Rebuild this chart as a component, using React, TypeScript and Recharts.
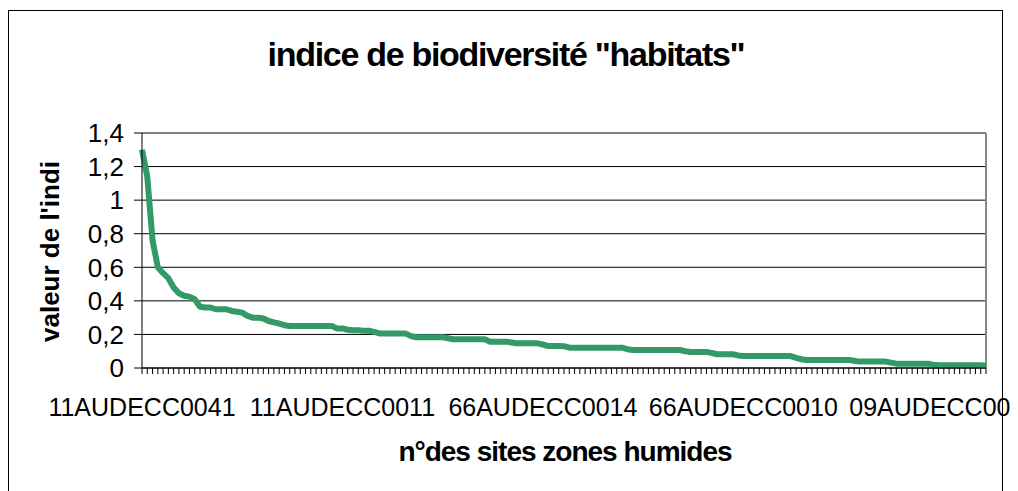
import { LineChart, Line, XAxis, YAxis, CartesianGrid, ReferenceLine } from 'recharts';

// indice "habitats" par site, trié par valeur décroissante
const indexValues = [
    1.3, 1.14, 0.76, 0.6, 0.565, 0.535, 0.48, 0.445, 0.43, 0.425,
    0.41, 0.365, 0.36, 0.36, 0.35, 0.35, 0.35, 0.34, 0.335, 0.33,
    0.31, 0.3, 0.3, 0.295, 0.28, 0.272, 0.265, 0.255, 0.25, 0.25,
    0.25, 0.25, 0.25, 0.25, 0.25, 0.25, 0.25, 0.236, 0.236, 0.228,
    0.225, 0.225, 0.222, 0.222, 0.215, 0.206, 0.206, 0.206, 0.206, 0.206,
    0.205, 0.19, 0.183, 0.183, 0.183, 0.183, 0.183, 0.183, 0.177, 0.171,
    0.171, 0.171, 0.171, 0.171, 0.171, 0.171, 0.157, 0.157, 0.157, 0.157,
    0.152, 0.147, 0.147, 0.147, 0.147, 0.147, 0.14, 0.131, 0.131, 0.131,
    0.13, 0.121, 0.121, 0.121, 0.121, 0.121, 0.121, 0.121, 0.121, 0.121,
    0.121, 0.121, 0.112, 0.107, 0.107, 0.107, 0.107, 0.107, 0.107, 0.107,
    0.107, 0.107, 0.107, 0.1, 0.095, 0.095, 0.095, 0.095, 0.09, 0.082,
    0.082, 0.082, 0.082, 0.075, 0.071, 0.071, 0.071, 0.071, 0.071, 0.071,
    0.071, 0.071, 0.071, 0.071, 0.06, 0.052, 0.048, 0.048, 0.048, 0.048,
    0.048, 0.048, 0.048, 0.048, 0.048, 0.043, 0.038, 0.038, 0.038, 0.038,
    0.038, 0.038, 0.032, 0.026, 0.026, 0.026, 0.026, 0.026, 0.026, 0.026,
    0.02, 0.016, 0.016, 0.016, 0.016, 0.016, 0.016, 0.016, 0.016, 0.016,
    0.014,
];

// positions des sites dont le n° est affiché sous l'axe
const labelledSites = [0, 38, 76, 114, 152];
const siteLabels = ['11AUDECC0041', '11AUDECC0011', '66AUDECC0014', '66AUDECC0010', '09AUDECC0003'];

const yTicks = [0, 0.2, 0.4, 0.6, 0.8, 1, 1.2, 1.4];

const data = indexValues.map((value, i) => ({ site: i, value }));

const FONT = '"Liberation Sans", Arial, sans-serif';

const SiteTick = (props: any) => {
    const { x, y, payload } = props;
    const pos = labelledSites.indexOf(payload.value);
    if (pos < 0) return <g />;
    return (
        <text x={x} y={y + 40} textAnchor="middle" fontSize={25} fontFamily={FONT} fill="#000">
            {siteLabels[pos]}
        </text>
    );
};

export default function App() {
    const lastSite = indexValues.length - 1;

    return (
        <div style={{ position: 'relative', width: 1010, height: 483, overflow: 'hidden' }}>
            <div
                style={{
                    position: 'absolute',
                    left: 0,
                    top: 2,
                    width: 995,
                    height: 520,
                    border: '1px solid #000',
                    boxSizing: 'border-box',
                }}
            />
            <div style={{ position: 'absolute', left: 0, top: 0 }}>
                <LineChart
                    width={1010}
                    height={483}
                    data={data}
                    margin={{ top: 125, right: 32, left: 0, bottom: 63 }}
                    style={{ overflow: 'visible' }}
                >
                    <CartesianGrid vertical={false} stroke="#000" strokeWidth={1} />
                    <ReferenceLine y={1.4} stroke="#888" strokeWidth={1} />
                    <ReferenceLine x={lastSite} stroke="#888" strokeWidth={2} />
                    <XAxis
                        dataKey="site"
                        type="category"
                        interval={0}
                        height={60}
                        tick={<SiteTick />}
                        tickSize={6}
                        axisLine={{ stroke: '#000' }}
                        tickLine={{ stroke: '#000' }}
                    />
                    <YAxis
                        width={134}
                        domain={[0, 1.4]}
                        ticks={yTicks}
                        interval={0}
                        tickSize={8}
                        tickMargin={10}
                        tickFormatter={(v: number) => String(v).replace('.', ',')}
                        tick={{ fill: '#000', fontSize: 26, fontFamily: FONT }}
                        axisLine={{ stroke: '#000' }}
                        tickLine={{ stroke: '#000' }}
                    />
                    <Line
                        type="linear"
                        dataKey="value"
                        stroke="#339966"
                        strokeWidth={6}
                        strokeLinejoin="round"
                        dot={false}
                        isAnimationActive={false}
                    />
                </LineChart>
            </div>
            <svg
                width={1010}
                height={483}
                style={{ position: 'absolute', left: 0, top: 0, pointerEvents: 'none' }}
            >
                <defs>
                    <clipPath id="ytitle-clip">
                        <rect x={0} y={152} width={80} height={300} />
                    </clipPath>
                </defs>
                <text
                    x={498}
                    y={58}
                    textAnchor="middle"
                    fontSize={34}
                    fontWeight="bold"
                    fontFamily={FONT}
                    letterSpacing={-1.3}
                    fill="#000"
                >
                    indice de biodiversité "habitats"
                </text>
                <text
                    x={557}
                    y={453}
                    textAnchor="middle"
                    fontSize={28}
                    fontWeight="bold"
                    fontFamily={FONT}
                    letterSpacing={-1}
                    fill="#000"
                >
                    n°des sites zones humides
                </text>
                <g clipPath="url(#ytitle-clip)">
                    <text
                        x={0}
                        y={0}
                        transform="translate(51 334) rotate(-90)"
                        fontSize={26}
                        fontWeight="bold"
                        fontFamily={FONT}
                        letterSpacing={0}
                        fill="#000"
                    >
                        valeur de l'indice
                    </text>
                </g>
            </svg>
        </div>
    );
}
